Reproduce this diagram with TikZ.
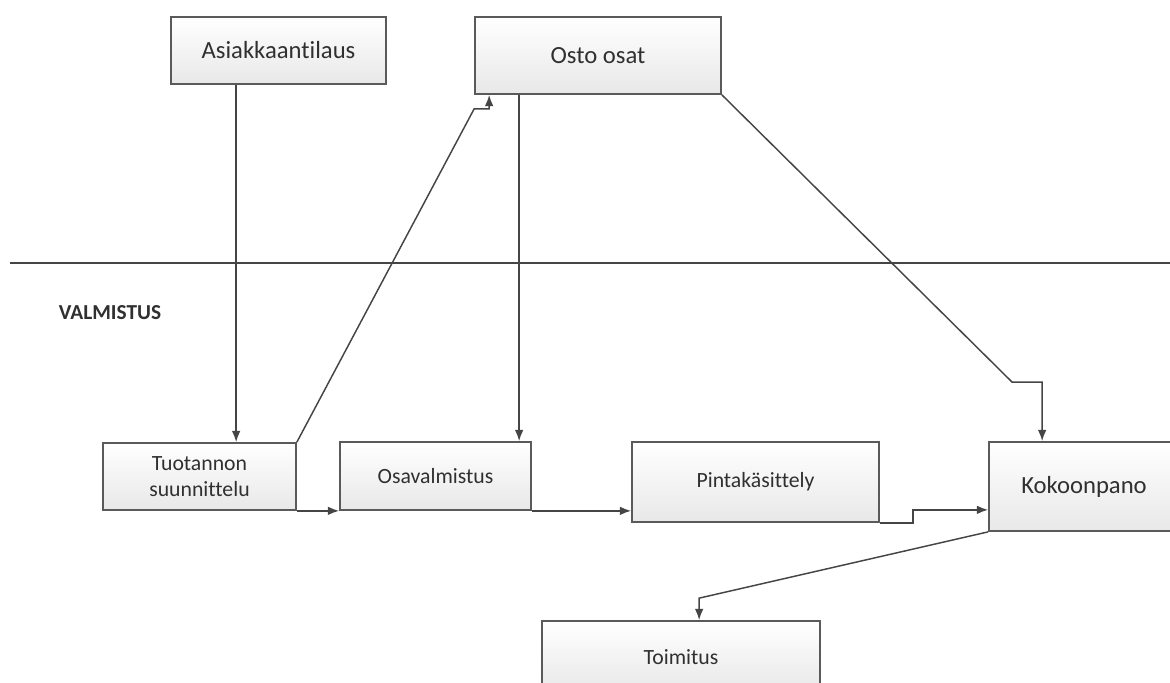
\documentclass[tikz,border=0pt]{standalone}
\usepackage{fontspec}
\setmainfont{Carlito}[Ligatures=NoCommon]
\usepackage{tikz}
\usetikzlibrary{calc}
\usetikzlibrary{arrows.meta}
\definecolor{linegray}{HTML}{454545}
\definecolor{boxgray}{HTML}{5A5A5A}
\definecolor{textgray}{HTML}{303030}
\tikzset{every picture/.style={line width=1.1pt},
  stepbox/.style={draw=boxgray,line width=1.3pt,top color=white,bottom color=black!9,inner sep=0pt,align=center,text=textgray},
  bigtext/.style={font=\fontsize{18.5}{21}\selectfont},
  smalltext/.style={font=\fontsize{16.3}{19}\selectfont},
  conn/.style={draw=linegray,-{Latex[length=8.5pt,width=6.5pt]}}}

\begin{document}
\begin{tikzpicture}[x=0.75pt,y=-0.75pt]
\useasboundingbox (0,0) rectangle (1170,682);
\clip (0,0) rectangle (1170,682);

\node (ask) [stepbox,bigtext,minimum width=161.25pt,minimum height=50.25pt] at (278.5,50.5) {Asiakkaantilaus};
\node (osto) [stepbox,bigtext,minimum width=184.5pt,minimum height=57.75pt] at (598,55.5) {Osto osat};
\node (tuot) [stepbox,smalltext,minimum width=144.75pt,minimum height=50.25pt] at (199.5,476.5) {Tuotannon\\suunnittelu};
\node (osa) [stepbox,smalltext,minimum width=143.25pt,minimum height=51pt] at (435.5,476) {Osavalmistus};
\node (pinta) [stepbox,smalltext,minimum width=185.25pt,minimum height=60pt] at (755.5,482) {Pintakäsittely};
\node (koko) [stepbox,bigtext,minimum width=142.5pt,minimum height=66.75pt] at (1084,486.5) {Kokoonpano};
\node (toim) [stepbox,smalltext,minimum width=208.5pt,minimum height=54pt] at (681,657) {Toimitus};

% raja
\coordinate (r1) at (10,263);
\coordinate (r2) at (1170,263);
\draw[draw=linegray,line width=1.3pt] (r1) -- (r2);
\node (valm) [text=textgray,font=\fontsize{16}{19}\bfseries] at (110,313) {VALMISTUS};

\draw[conn] ($(ask.south west)+(66,0)$) coordinate (a1) -- (a1 |- tuot.north);
\draw[conn] (tuot.north east) -- ($(osto.south west)+(0,14)$) -- ($(osto.south west)+(15,14)$) -- ($(osto.south west)+(15,0)$);
\draw[conn] ($(osto.south west)+(45,0)$) coordinate (o1) -- (o1 |- osa.north);
\draw[conn] (osto.south east) -- ($(koko.north west)+(24,-59)$) -- ($(koko.north west)+(54,-59)$) -- ($(koko.north west)+(54,0)$);
\draw[conn] (tuot.south east) -- (osa.south west);
\draw[conn] (osa.south east) -- ($(pinta.south west)+(0,-12)$);
\draw[conn] (pinta.south east) -- ++(33,0) |- ($(koko.south west)+(0,-22)$);
\draw[conn] (koko.south west) -- ($(toim.north west)+(158,-22)$) -- ($(toim.north west)+(158,0)$);
\end{tikzpicture}
\end{document}
